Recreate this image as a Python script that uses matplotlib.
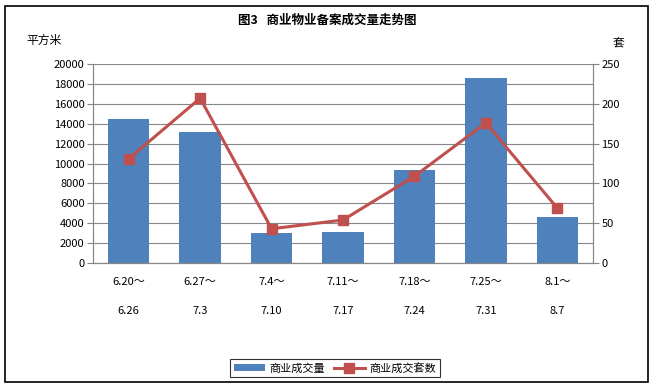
import matplotlib.pyplot as plt
from matplotlib.patches import Rectangle
import numpy as np

plt.rcParams['font.family'] = ['Noto Sans CJK SC', 'DejaVu Sans']

# data
periods = ['6.20～\n\n6.26', '6.27～\n\n7.3', '7.4～\n\n7.10', '7.11～\n\n7.17',
           '7.18～\n\n7.24', '7.25～\n\n7.31', '8.1～\n\n8.7']
area = [14500, 13200, 3000, 3100, 9300, 18600, 4600]   # 平方米
units = [131, 207, 43, 54, 109, 176, 69]                # 套

blue = '#4f81bd'
red = '#c0504d'
grid = '#868686'

fig = plt.figure(figsize=(6.54, 3.87), dpi=100, facecolor='white')
ax = fig.add_axes([93 / 654, 1 - 263 / 387, 500 / 654, 199 / 387])
ax2 = ax.twinx()

x = np.arange(len(periods))
ax.bar(x, area, width=0.58, color=blue, zorder=2, label='商业成交量')
ax2.plot(x, units, color=red, lw=2.2, marker='s', ms=6.5, mfc=red, mec=red,
         zorder=3, label='商业成交套数')

ax.set_xlim(-0.5, len(periods) - 0.5)
ax.set_ylim(0, 20000)
ax.set_yticks(range(0, 20001, 2000))
ax2.set_ylim(0, 250)
ax2.set_yticks(range(0, 251, 50))
ax.yaxis.grid(True, color=grid, lw=0.8, zorder=0)
ax.set_axisbelow(True)

ax.set_xticks(x)
ax.set_xticklabels(periods, fontsize=8, linespacing=1.55)
ax.tick_params(axis='x', length=0, pad=10)
ax.tick_params(axis='y', labelsize=8, length=4, color=grid, pad=2)
ax2.tick_params(axis='y', labelsize=8, length=4, color=grid, pad=2)

for a in (ax, ax2):
    a.spines['top'].set_visible(False)
    for s in ('left', 'right', 'bottom'):
        a.spines[s].set_color(grid)
        a.spines[s].set_linewidth(0.8)

fig.text(0.5, 1 - 20 / 387, '图3   商业物业备案成交量走势图', ha='center', va='center',
         fontsize=9, fontweight='bold')
fig.text(26 / 654, 1 - 40 / 387, '平方米', ha='left', va='center', fontsize=8.5)
fig.text(618 / 654, 1 - 44 / 387, '套', ha='center', va='center', fontsize=8.5)

h1, l1 = ax.get_legend_handles_labels()
h2, l2 = ax2.get_legend_handles_labels()
leg = fig.legend(h1 + h2, l1 + l2, loc='center', bbox_to_anchor=(335 / 654, 1 - 368 / 387),
                 ncol=2, fontsize=8, frameon=True, fancybox=False, edgecolor='black',
                 handlelength=2.8, handleheight=0.6, columnspacing=0.8, borderpad=0.3,
                 handletextpad=0.4)
leg.get_frame().set_linewidth(0.8)

# outer chart border
fig.patches.append(Rectangle((5 / 654, 5 / 387), 643 / 654, 376 / 387, transform=fig.transFigure,
                             fill=False, edgecolor='black', lw=1.2))

fig.savefig('out.png', dpi=100, facecolor='white')
